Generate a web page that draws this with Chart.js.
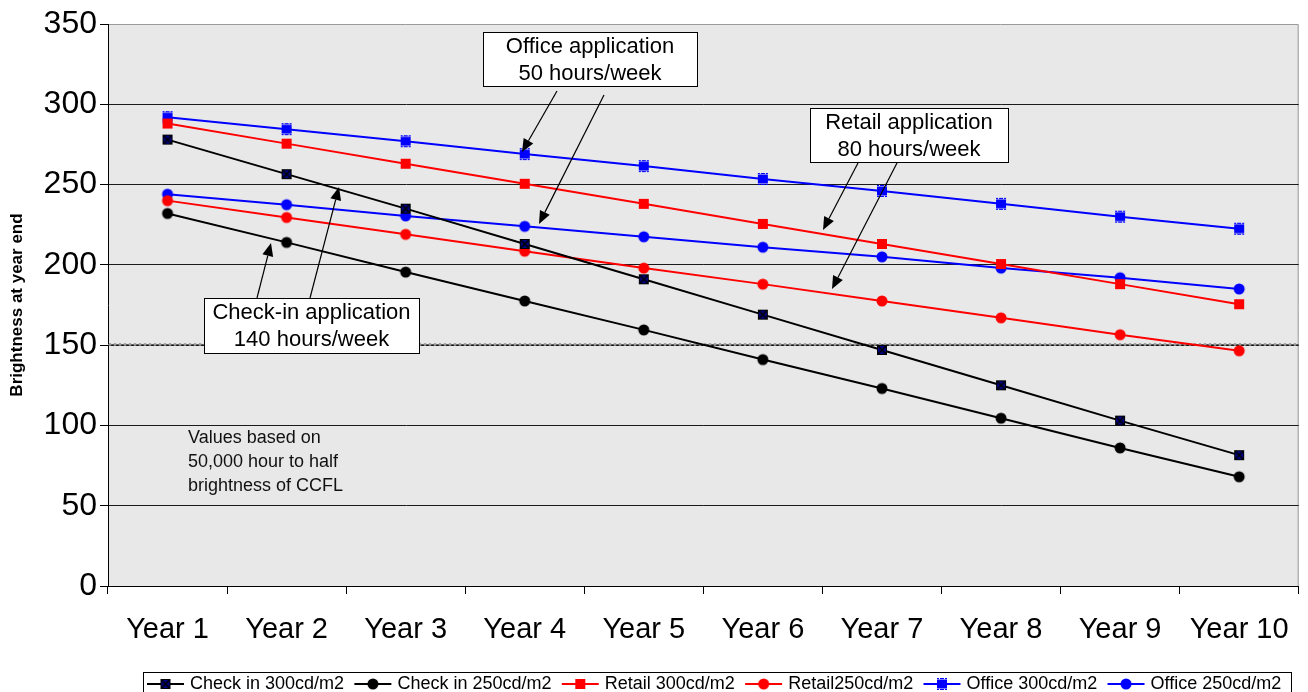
<!DOCTYPE html>
<html>
<head>
<meta charset="utf-8">
<script src="https://cdn.jsdelivr.net/npm/chart.js@4/dist/chart.umd.min.js"></script>
<style>
  html, body { margin: 0; padding: 0; background: #fff; }
  #wrap { width: 1308px; height: 692px; }
</style>
</head>
<body>
<div id="wrap"><canvas id="c" width="1308" height="692"></canvas></div>
<script>
// Brightness of CCFL backlights at the end of each year, by usage profile
const years = ['Year 1', 'Year 2', 'Year 3', 'Year 4', 'Year 5', 'Year 6', 'Year 7', 'Year 8', 'Year 9', 'Year 10'];
const checkIn300 = [278, 256.5, 235, 213, 191, 169, 147, 125, 103, 81.5];
const checkIn250 = [232, 214, 195.5, 177.5, 159.5, 141, 123, 104.5, 86, 68];
const retail300 = [288, 275.5, 263, 250.5, 238, 225.5, 213, 200.5, 188, 175.5];
const retail250 = [240, 229.5, 219, 208.5, 198, 188, 177.5, 167, 156.5, 146.5];
const office300 = [292, 284.5, 277, 269, 261.5, 253.5, 246, 238, 230, 222.5];
const office250 = [244, 237.5, 230.5, 224, 217.5, 211, 205, 198, 192, 185];
const seriesNames = ['Check in 300cd/m2', 'Check in 250cd/m2', 'Retail 300cd/m2', 'Retail250cd/m2', 'Office 300cd/m2', 'Office 250cd/m2'];
const yTicks = [0, 50, 100, 150, 200, 250, 300, 350];
const referenceLevel = 150;

const FONT = 'Arial, "Liberation Sans", sans-serif';

// Marker glyphs
function marker(draw) {
  const c = document.createElement('canvas');
  c.width = 14; c.height = 14;
  const g = c.getContext('2d');
  draw(g);
  return c;
}
const mkCheck300 = marker(g => {
  g.fillStyle = '#000080';
  g.fillRect(2, 2, 10, 10);
  g.strokeStyle = '#000';
  g.lineWidth = 1;
  g.strokeRect(2.5, 2.5, 9, 9);
  g.lineWidth = 1.5;
  g.beginPath();
  g.moveTo(2.5, 2.5); g.lineTo(11.5, 11.5);
  g.moveTo(11.5, 2.5); g.lineTo(2.5, 11.5);
  g.stroke();
});
const mkSquare = color => marker(g => {
  g.fillStyle = color;
  g.fillRect(2, 2, 10, 10);
});
const mkStarSquare = color => marker(g => {
  g.fillStyle = color;
  g.fillRect(2, 2.5, 10, 9);
  g.strokeStyle = color;
  g.lineWidth = 1;
  g.beginPath();
  g.moveTo(2, 1.5); g.lineTo(12, 1.5);
  g.moveTo(2, 12.5); g.lineTo(12, 12.5);
  g.stroke();
  g.clearRect(4, 1, 1, 1); g.clearRect(9, 1, 1, 1);
  g.clearRect(4, 12, 1, 1); g.clearRect(9, 12, 1, 1);
});
const mkCircle = color => marker(g => {
  g.fillStyle = color;
  g.beginPath();
  g.arc(7, 7, 5.5, 0, Math.PI * 2);
  g.fill();
});

const seriesStyle = [
  { color: '#000000', pt: mkCheck300 },
  { color: '#000000', pt: mkCircle('#000000') },
  { color: '#ff0000', pt: mkSquare('#ff0000') },
  { color: '#ff0000', pt: mkCircle('#ff0000') },
  { color: '#0000ff', pt: mkStarSquare('#0000ff') },
  { color: '#0000ff', pt: mkCircle('#0000ff') }
];
const seriesValues = [checkIn300, checkIn250, retail300, retail250, office300, office250];

const datasets = seriesValues.map((vals, i) => ({
  label: seriesNames[i],
  data: vals,
  borderColor: seriesStyle[i].color,
  backgroundColor: seriesStyle[i].color,
  borderWidth: 2,
  pointStyle: seriesStyle[i].pt,
  pointRadius: 6,
  pointHoverRadius: 6,
  tension: 0,
  fill: false
}));

// Plot background, reference line, callouts, note and legend box
const decor = {
  id: 'decor',
  beforeDraw(chart) {
    const { ctx, chartArea: a } = chart;
    ctx.save();
    ctx.fillStyle = '#fff';
    ctx.fillRect(0, 0, chart.width, chart.height);
    ctx.fillStyle = '#e8e8e8';
    ctx.fillRect(a.left, a.top, a.right - a.left, a.bottom - a.top);
    ctx.strokeStyle = '#9a9a9a';
    ctx.lineWidth = 1;
    ctx.beginPath();
    ctx.moveTo(a.left, a.top + 0.5); ctx.lineTo(a.right - 0.5, a.top + 0.5);
    ctx.lineTo(a.right - 0.5, a.bottom);
    ctx.stroke();
    ctx.restore();
  },
  beforeDatasetsDraw(chart) {
    const { ctx, chartArea: a, scales } = chart;
    const y = Math.round(scales.y.getPixelForValue(referenceLevel)) - 0.5;
    ctx.save();
    ctx.strokeStyle = '#555';
    ctx.lineWidth = 1;
    ctx.beginPath(); ctx.moveTo(a.left, y); ctx.lineTo(a.right, y); ctx.stroke();
    ctx.fillStyle = '#999';
    for (let x = a.left + 2; x < a.right; x += 5) {
      ctx.beginPath(); ctx.arc(x, y, 1.4, 0, Math.PI * 2); ctx.fill();
    }
    ctx.restore();
  },
  afterDatasetsDraw(chart) {
    const { ctx } = chart;
    ctx.save();
    // callout boxes
    const boxes = [
      { x: 483, y: 32, w: 214, h: 54, lines: ['Office application', '50 hours/week'] },
      { x: 810, y: 108, w: 198, h: 54, lines: ['Retail application', '80 hours/week'] },
      { x: 204, y: 298, w: 215, h: 55, lines: ['Check-in application', '140 hours/week'] }
    ];
    ctx.font = '22px ' + FONT;
    ctx.textAlign = 'center';
    ctx.textBaseline = 'middle';
    boxes.forEach(b => {
      ctx.fillStyle = '#fff';
      ctx.fillRect(b.x, b.y, b.w, b.h);
      ctx.strokeStyle = '#000';
      ctx.lineWidth = 1;
      ctx.strokeRect(b.x + 0.5, b.y + 0.5, b.w, b.h);
      ctx.fillStyle = '#000';
      ctx.fillText(b.lines[0], b.x + b.w / 2, b.y + 15);
      ctx.fillText(b.lines[1], b.x + b.w / 2, b.y + 42);
    });
    // arrows
    const arrows = [
      [557, 91, 522, 152], [604, 95, 539, 224],
      [858, 163, 823, 230], [897, 163, 832, 289],
      [257, 298, 271, 243], [310, 298, 339, 187]
    ];
    arrows.forEach(([x1, y1, x2, y2]) => {
      const ang = Math.atan2(y2 - y1, x2 - x1);
      const L = 13, W = 5.5;
      const bx = x2 - L * Math.cos(ang), by = y2 - L * Math.sin(ang);
      ctx.strokeStyle = '#000';
      ctx.lineWidth = 1.2;
      ctx.beginPath(); ctx.moveTo(x1, y1); ctx.lineTo(bx, by); ctx.stroke();
      ctx.fillStyle = '#000';
      ctx.beginPath();
      ctx.moveTo(x2, y2);
      ctx.lineTo(bx + W * Math.sin(ang), by - W * Math.cos(ang));
      ctx.lineTo(bx - W * Math.sin(ang), by + W * Math.cos(ang));
      ctx.closePath(); ctx.fill();
    });
    // note
    ctx.font = '18px ' + FONT;
    ctx.textAlign = 'left';
    ctx.fillStyle = '#111';
    ['Values based on', '50,000 hour to half', 'brightness of CCFL'].forEach((t, i) => {
      ctx.fillText(t, 188, 438 + i * 24);
    });
    ctx.restore();
  },
  afterDraw(chart) {
    const { ctx } = chart;
    ctx.save();
    ctx.strokeStyle = '#000';
    ctx.lineWidth = 1;
    ctx.strokeRect(143.5, 672.5, 1148, 30);
    ctx.font = '18px ' + FONT;
    ctx.textBaseline = 'middle';
    ctx.textAlign = 'left';
    let x = 147;
    const y = 684;
    chart.data.datasets.forEach((ds, i) => {
      ctx.strokeStyle = ds.borderColor;
      ctx.lineWidth = 2;
      ctx.beginPath(); ctx.moveTo(x, y); ctx.lineTo(x + 37, y); ctx.stroke();
      ctx.drawImage(ds.pointStyle, x + 18.5 - 7, y - 7);
      ctx.fillStyle = '#000';
      ctx.fillText(ds.label, x + 43, y);
      x += 43 + ctx.measureText(ds.label).width + 10.3;
    });
    ctx.restore();
  }
};

new Chart(document.getElementById('c'), {
  type: 'line',
  data: { labels: years, datasets },
  options: {
    responsive: false,
    animation: false,
    devicePixelRatio: 1,
    layout: { padding: { top: 24, right: 6, left: 0, bottom: 0 } },
    plugins: { legend: { display: false }, tooltip: { enabled: false } },
    scales: {
      x: {
        type: 'category',
        offset: true,
        grid: { offset: true, drawOnChartArea: false, tickLength: 8, tickColor: '#000', tickWidth: 1 },
        border: { color: '#000', width: 1 },
        ticks: { color: '#000', font: { family: FONT, size: 29 }, padding: 19, maxRotation: 0, autoSkip: false },
        afterFit(s) { s.height = 106; }
      },
      y: {
        min: 0, max: 350,
        afterBuildTicks(s) { s.ticks = yTicks.map(v => ({ value: v })); },
        grid: {
          color: ctx => (ctx.tick && ctx.tick.value === 350 ? 'rgba(0,0,0,0)' : '#1a1a1a'),
          tickColor: '#000', tickLength: 8, lineWidth: 1
        },
        border: { color: '#000', width: 1 },
        ticks: { color: '#000', font: { family: FONT, size: 32 }, padding: 3 },
        title: { display: true, text: 'Brightness at year end', color: '#000', font: { family: FONT, size: 17, weight: 'bold' }, padding: { top: 7, bottom: 0 } },
        afterFit(s) { s.width = 108; }
      }
    }
  },
  plugins: [decor]
});
</script>
</body>
</html>
